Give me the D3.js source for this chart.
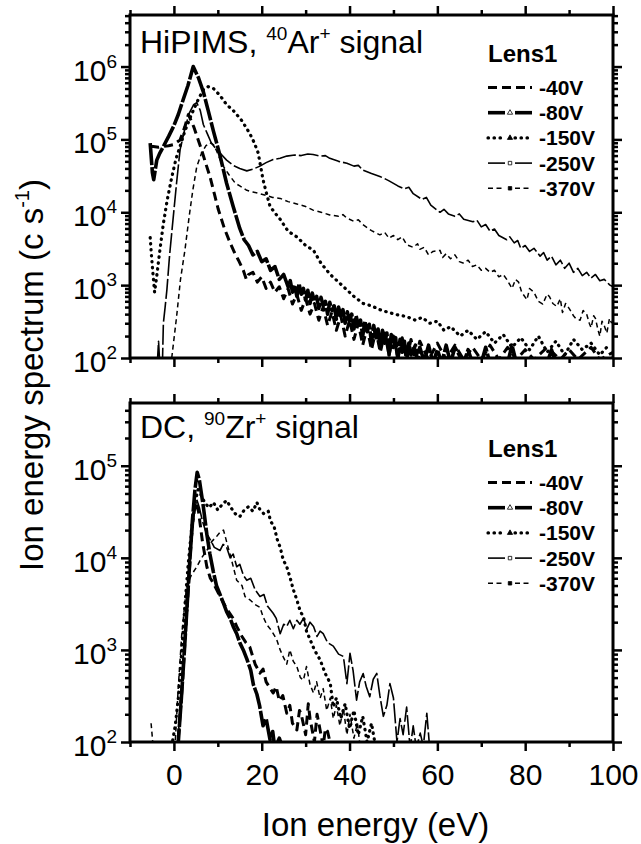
<!DOCTYPE html>
<html>
<head>
<meta charset="utf-8">
<script src="https://cdn.jsdelivr.net/npm/d3@7"></script>
<style>
body { margin: 0; background: #fff; }
text { font-family: "Liberation Sans", Arial, Helvetica, sans-serif; fill: #000; }
</style>
</head>
<body>
<script>
// legend labels (Lens1 voltage)
var labels = ["-40V", "-80V", "-150V", "-250V", "-370V"];

// x axis ticks
var xMajor = [0, 20, 40, 60, 80, 100];
var xMinor = [-10, 10, 30, 50, 70, 90];

// ---- HiPIMS, 40Ar+ signal (top) ----
var ar40 = [[-5.4,8e4],[-4.7,8e4],[-3.5,7.8e4],[-2.4,8e4],[-1.2,8.2e4],[-0.1,8.5e4],[1.4,9.8e4],[2.5,1.5e5],[3.3,2.2e5],[4.5,1.5e5],[5.5,1e5],[6.3,7.2e4],[7.2,4.8e4],[8.2,3.1e4],[9.2,1.8e4],[10.1,1.1e4],[11.5,6e3],[12.8,3.8e3],[13.8,2.8e3],[14.7,2.2e3],[15.8,1.6e3],
  [16.5,1200],[17,1400],[18,1500],[19,1100],[20,1300],[21,900],[22,1100],[23,800],[24,950],[25,650],[26,900],[27,550],[28,750],[29,450],[30,650],[31,400],[32,560],[33,330],[34,500],[35,280],[36,430],[37,240],[38,380],[39,200],[40,330],[41,180],[42,300],[43,150],[44,260],[45,130],[46,240],[47,120],[48,220],[49,110],[50,200],[51,100],[52,190],[53,95],[54,180],[55,95],[56,170],[58,95],[60,160],[62,95],[64,150],[66,95],[68,140],[70,95],[72,150],[74,95],[76,140],[78,95],[80,130],[82,95],[85,140],[88,95],[90,130],[92,95],[95,140],[97,95],[100,120]];
var ar80 = [[-5.4,8.9e4],[-4.9,3.5e4],[-4.6,2.8e4],[-4.2,4e4],[-3.9,5.2e4],[-3.2,6.5e4],[-2.4,8e4],[-1.2,1.1e5],[-0.1,1.5e5],[1,2.2e5],[2.1,3.5e5],[3.2,5.5e5],[4.4,1e6],[5.6,7e5],[6.7,4.5e5],[7.8,2.5e5],[9,1.3e5],[10.5,6e4],[12,2.5e4],[13.5,1.2e4],[15,6e3],[16,4.2e3],[17,3.5e3],[18,2.6e3],[19,2.9e3],[20,2.1e3],[21,2.3e3],[22,1.6e3],[23,1.8e3],[24,1.2e3],[25,1.4e3],
  [26,950],[26.5,1150],[27,800],[27.5,1000],[28,700],[28.5,1050],[29,750],[29.5,900],[30,620],[30.5,850],[31,560],[31.5,780],[32,600],[32.5,700],[33,480],[33.5,680],[34,520],[34.5,600],[35,400],[35.5,580],[36,450],[36.5,520],[37,340],[37.5,500],[38,380],[38.5,460],[39,300],[39.5,430],[40,320],[40.5,400],[41,250],[41.5,380],[42,280],[42.5,330],[43,200],[43.5,320],[44,230],[44.5,290],[45,160],[45.5,280],[46,190],[46.5,250],[47,130],[47.5,240],[48,160],[48.5,220],[49,110],[49.5,210],[50,140],[50.5,190],[51,95],[51.5,180],[52,120],[52.5,170],[53,90],[53.5,160],[54,110],[55,150],[55.5,85],[56,140],[57,90],[58,150],[59,85],[60,130],
  [61,85],[62,150],[63,85],[64,140],[66,85],[67,130],[68,85],[70,85],[71,140],[72,85],[76,85],[77,150],[78,85],[85,85],[86,130],[87,85],[100,85]];
var ar150 = [[-5.4,4.5e3],[-5.1,2.5e3],[-4.8,1.5e3],[-4.4,800],[-4,1.2e3],[-3.2,3e3],[-2.4,7e3],[-1.5,1.5e4],[-0.5,3e4],[0.5,5.5e4],[1.4,8e4],[2.5,1.3e5],[4,2.2e5],[5.5,3.5e5],[6.7,4.8e5],[7.8,5.3e5],[9,5e5],[10.5,4e5],[12,3e5],[13.5,2.5e5],[15.5,1.8e5],[17.3,1.2e5],[18.3,9e4],[19.2,6.5e4],[20.3,2.8e4],[21.1,1.8e4],[21.9,1.2e4],[23,9.8e3],[24.2,8e3],[26,5.5e3],[28,4.6e3],[30,3.5e3],[31.8,3e3],[33.5,2e3],[35.6,1.4e3],[37.5,1.1e3],[39.4,860],[41,700],[43.1,560],[45,520],[46.9,460],[49,420],[51,390],[53,370],[55,330],[56.5,360],[58.3,300],[60,320],[61.5,240],[63,270],[65.2,200],[67,240],[69,180],[71,230],[73,160],[75,210],[77,140],[79,190],[81,130],[83,200],[85,120],[87,170],[89,110],[91,180],[93,130],[95,160],[97,110],[99,150]];
var ar250 = [[-3.8,80],[-3.5,170],[-3.2,80],[-2.6,90],[-2.4,300],[-2,500],[-1.6,860],[-1,2.5e3],[-0.5,5.2e3],[0.6,2.5e4],[1.4,7.2e4],[2.5,1.4e5],[3.5,2.3e5],[4.5,3e5],[5.2,3.2e5],[6,2.5e5],[6.7,1.6e5],[7.6,1.2e5],[8.5,9e4],[9.5,7.5e4],[10.5,6.5e4],[12,5.2e4],[13.5,4.4e4],[15,4e4],[16.6,3.7e4],[18,3.9e4],[19.6,4.3e4],[21,4.8e4],[22.6,5.3e4],[24.2,5.5e4],[25.7,5.9e4],[27.5,6.1e4],[29,6e4],[30.5,6.3e4],[31.7,6.2e4],[33.3,5.9e4],[34.5,6e4],[35.5,5.5e4],[37.5,5e4],[39.4,4.7e4],[41,4.3e4],[42,4.4e4],[43,3.8e4],[45,3.4e4],[46.9,3.1e4],[48,2.9e4],[49,2.7e4],[51,2.3e4],[52.5,2.1e4],[53.5,2.2e4],[54.5,1.8e4],[56.5,1.5e4],[57.5,1.6e4],[58.5,1.25e4],[60.6,1e4],[61.5,1.1e4],[62.5,9.5e3],[64,8.8e3],[65,9.5e3],[66,8e3],[68.1,7.4e3],[69,7.8e3],[70,6.3e3],[71,6.8e3],[72,5.5e3],[73,5.9e3],[74,4.8e3],[75.8,4.2e3],[76.5,4.6e3],[77.5,3.8e3],[78.3,4.1e3],[79,3.2e3],[80,3.5e3],[81,2.9e3],[82,3.2e3],[83.4,2.5e3],[84.2,2.8e3],[85,2.2e3],[86,2.5e3],[87,1.9e3],[88,2.2e3],[89,1.7e3],[90,2e3],[91,1.5e3],[92,1.7e3],[93,1.35e3],[94,1.5e3],[95,1.25e3],[96,1.4e3],[97,1.15e3],[98,1.2e3],[99.3,1e3],[100,950]];
var ar370 = [[-0.5,100],[0.6,363],[1.5,1.2e3],[2.5,3e3],[3.5,9e3],[4.3,2e4],[5.2,4.2e4],[6.3,6.5e4],[7.3,8.2e4],[8.2,9e4],[9,8.5e4],[9.7,7e4],[11,4.5e4],[12.5,3.3e4],[14,2.5e4],[15,2.3e4],[16.6,2e4],[18,1.9e4],[19.6,1.8e4],[21,1.7e4],[22.5,1.6e4],[24.2,1.55e4],[26,1.4e4],[28,1.3e4],[30,1.2e4],[31.7,1.07e4],[33.5,1e4],[35.5,9.2e3],[37.5,8.8e3],[38.5,9.3e3],[39.3,8.4e3],[41,7.5e3],[42,7.9e3],[43,6.8e3],[45,5.6e3],[46.9,4.9e3],[48,5.3e3],[49,4.4e3],[50,4.8e3],[51,4.2e3],[52,4.6e3],[53,3.6e3],[54.5,3.3e3],[55.5,3.7e3],[56,3.1e3],[57,3.3e3],[58,2.6e3],[59,2.9e3],[60.6,3e3],[61.2,2.4e3],[62,2.7e3],[63,2.3e3],[64,2.6e3],[65,2.1e3],[66,2e3],[67,2.2e3],[68,1.8e3],[69,1.9e3],[70,1.6e3],[71,1.7e3],[72,1.5e3],[73,1.6e3],[74,1.3e3],[75,1.4e3],[75.8,1.2e3],[77,900],[77.8,1.2e3],[78.5,1.1e3],[79.2,800],[80.4,630],[81,900],[82,800],[83,600],[84,550],[85,750],[85.5,700],[86.3,560],[87.2,510],[88,650],[88.5,420],[89.2,560],[90,480],[91,380],[91.5,350],[92.5,330],[93.2,450],[94,400],[94.6,300],[95,260],[95.6,380],[96,350],[96.6,240],[97,200],[97.5,320],[98,280],[98.6,220],[99.2,350],[99.7,300]];

// ---- DC, 90Zr+ signal (bottom) ----
var zr40 = [[0.5,80],[1,110],[1.8,350],[2.5,1.2e3],[3.2,4e3],[3.8,1.2e4],[4.4,2.8e4],[5,4e4],[5.6,3.2e4],[6.5,1.5e4],[7.5,8e3],[8.3,6e3],[9,5.3e3],[10.5,3.8e3],[12,2.8e3],[13.5,2.2e3],[14.3,1.8e3],[15.5,1.4e3],[16.4,1.2e3],[17.3,1.07e3],[18.5,700],[19.6,560],[20.3,620],[21,450],[22.6,340],[23.3,400],[24,280],[24.8,320],[25.7,205],[26.4,250],[27,160],[28,135],[28.6,220],[29,200],[30,120],[30.6,260],[31,180],[32,100],[32.6,200],[33,160],[34,90],[34.5,140],[35,130],[36,80]];
var zr80 = [[0.5,80],[1,100],[1.7,300],[2.4,1e3],[3,3e3],[3.6,9e3],[4.2,2.5e4],[4.8,5.5e4],[5.3,8.5e4],[5.8,7e4],[6.7,3.6e4],[7.5,1.8e4],[8.2,1.1e4],[9,7e3],[9.7,5e3],[10.5,4e3],[11.3,3.2e3],[12,2.6e3],[12.8,2.2e3],[13.5,1.8e3],[14.3,1.5e3],[15,1.2e3],[15.8,1e3],[16.6,800],[17.5,600],[18.1,420],[18.9,330],[19.5,250],[20.3,150],[21,180],[21.9,105],[22.5,130],[23,85],[24,110],[25,80]];
var zr150 = [[-0.5,90],[0.3,150],[1,300],[1.8,1e3],[2.5,3e3],[3.2,8e3],[4,2e4],[4.8,4e4],[5.5,5.5e4],[6.2,4.8e4],[7,4e4],[8,3.5e4],[9,4e4],[10,3.3e4],[11,3.8e4],[12,4.2e4],[13,3.5e4],[14,3e4],[15,2.8e4],[16,3.3e4],[17,3.6e4],[18,3.2e4],[18.9,4e4],[19.5,3.4e4],[20.5,3e4],[21.5,3.2e4],[22,2.5e4],[22.8,2.2e4],[23.5,1.6e4],[24.2,1.3e4],[24.9,9.5e3],[25.7,8e3],[26.5,6e3],[27.2,4.5e3],[28,3.5e3],[28.8,2.6e3],[29.5,2.3e3],[30.2,1.6e3],[31,1.3e3],[32,1e3],[33.3,780],[34.5,550],[35.6,435],[36.3,240],[37,300],[38,180],[39,260],[40,140],[41,220],[42,120],[43,190],[44,100],[45,160],[46,85]];
var zr250 = [[0.3,80],[0.9,100],[1.7,400],[2.5,1.5e3],[3.3,5e3],[4,1.5e4],[4.7,3.2e4],[5.2,4.3e4],[5.8,3.5e4],[6.5,2.5e4],[7.3,1.9e4],[8.2,1.6e4],[9.2,1.3e4],[10.5,1.2e4],[11.2,1.4e4],[12,1.3e4],[12.8,1e4],[13.5,1.1e4],[14.3,8e3],[15,8.5e3],[15.8,6.5e3],[16.6,5.7e3],[17.5,6e3],[18.5,4.5e3],[19.6,3.8e3],[20.5,4e3],[21.3,3e3],[22.6,2.5e3],[23.3,2.2e3],[24.2,1.5e3],[25,1.9e3],[25.7,1.8e3],[26.4,2.1e3],[27.2,1.7e3],[28,2.1e3],[28.7,1.9e3],[29.5,2.2e3],[30.3,1.7e3],[31,2e3],[31.8,1.8e3],[32.6,1.4e3],[33.3,1.6e3],[34,1.5e3],[35,1.2e3],[36.3,1.1e3],[37.5,900],[38.6,850],[39.4,430],[40.1,920],[40.8,600],[41.6,285],[42.3,450],[43.1,555],[43.8,400],[44.6,310],[45.4,480],[46.2,555],[46.9,320],[47.7,190],[48.5,250],[49.2,430],[50,300],[50.8,100],[51.5,180],[52.2,120],[53,240],[53.8,85],[54.5,150],[55.2,85],[56.1,125],[56.8,90],[57.6,205],[58.3,80]];
var zr370 = [[-5.2,160],[-4.9,110],[-4.7,80],[0,80],[0.3,100],[1,400],[1.8,1.5e3],[2.9,5e3],[4,6.5e3],[5.2,8e3],[6.3,1e4],[7.5,1.2e4],[8.6,1.5e4],[9.7,1.7e4],[10.5,1.9e4],[11.3,2e4],[12,1.5e4],[13,1e4],[14.3,5.7e3],[15.5,5e3],[16.2,3.8e3],[17.3,3.5e3],[18.5,3.1e3],[19.6,2.9e3],[20.3,2.3e3],[21.1,1.9e3],[22.3,1.6e3],[23.4,1.3e3],[24.2,1e3],[24.9,840],[25.7,700],[26.4,1e3],[27.2,750],[28,660],[28.8,500],[29.5,470],[30.2,660],[31,420],[31.8,340],[32.5,450],[33.3,300],[34,380],[34.8,220],[35.6,300],[36.3,180],[37,250],[37.8,150],[38.6,230],[39.4,120],[40.1,200],[41,110],[41.8,160],[42.5,80]];

// line styles per legend entry
var lineStyle = {
  "-40V":  { w: 3,   dash: "9,5",     cap: "butt",  sym: null },
  "-80V":  { w: 3.6, dash: "22,2",    cap: "butt",  sym: "openTri" },
  "-150V": { w: 3.2, dash: "0.5,5.5", cap: "round", sym: "tri" },
  "-250V": { w: 1.6, dash: "20,3",    cap: "butt",  sym: "openSq" },
  "-370V": { w: 1.5, dash: "5,3.5",   cap: "butt",  sym: "sq" }
};

var W = 641, H = 844;
var xLeft = 130, xRight = 613;

var svg = d3.select("body").append("svg")
    .attr("width", W)
    .attr("height", H);

var xScale = d3.scaleLinear().domain([-10, 100]).range([xLeft, xRight]);

var panels = [
  { id: "ar", top: 15, bottom: 358, yDomain: [100, 5.1e6], showX: false, legendY: 62,
    title: [["HiPIMS, ", 0], ["40", 1], ["Ar", 0], ["+", 1], [" signal", 0]], titleY: 53,
    series: [ar40, ar80, ar150, ar250, ar370] },
  { id: "zr", top: 403, bottom: 742, yDomain: [100, 4.8e5], showX: true, legendY: 457,
    title: [["DC, ", 0], ["90", 1], ["Zr", 0], ["+", 1], [" signal", 0]], titleY: 438,
    series: [zr40, zr80, zr150, zr250, zr370] }
];

function styleTicks(g) {
  g.select(".domain").remove();
  g.selectAll(".tick line").attr("stroke", "#000").attr("stroke-width", 2.5);
}

function richText(sel, parts, supSize, supShift) {
  parts.forEach(function(p, i) {
    var t = sel.append("tspan").text(p[0]);
    if (p[1]) t.attr("font-size", supSize).attr("dy", -supShift);
    else if (i > 0 && parts[i - 1][1]) t.attr("dy", supShift);
  });
}

panels.forEach(function(p) {
  var y = d3.scaleLog().domain(p.yDomain).range([p.bottom, p.top]);
  var g = svg.append("g");

  g.append("clipPath").attr("id", "clip-" + p.id)
    .append("rect")
    .attr("x", xLeft).attr("y", p.top)
    .attr("width", xRight - xLeft).attr("height", p.bottom - p.top);

  var line = d3.line()
      .x(function(d) { return xScale(d[0]); })
      .y(function(d) { return y(d[1]); });

  var curves = g.append("g").attr("clip-path", "url(#clip-" + p.id + ")");
  p.series.forEach(function(s, i) {
    var st = lineStyle[labels[i]];
    curves.append("path")
      .attr("d", line(s))
      .attr("fill", "none")
      .attr("stroke", "#000")
      .attr("stroke-width", st.w)
      .attr("stroke-dasharray", st.dash)
      .attr("stroke-linecap", st.cap)
      .attr("stroke-linejoin", "round");
  });

  // y ticks
  var lo = Math.round(Math.log10(p.yDomain[0]));
  var hi = Math.floor(Math.log10(p.yDomain[1]));
  var yMajor = d3.range(lo, hi + 1).map(function(e) { return Math.pow(10, e); });
  var yMinor = [];
  yMajor.forEach(function(m) {
    for (var k = 2; k <= 9; k++) if (m * k <= p.yDomain[1]) yMinor.push(m * k);
  });

  g.append("g").attr("transform", "translate(" + xLeft + ",0)")
    .call(d3.axisLeft(y).tickValues(yMajor).tickSize(9).tickFormat("")).call(styleTicks);
  g.append("g").attr("transform", "translate(" + xLeft + ",0)")
    .call(d3.axisLeft(y).tickValues(yMinor).tickSize(5).tickFormat("")).call(styleTicks);
  g.append("g").attr("transform", "translate(" + xRight + ",0)")
    .call(d3.axisRight(y).tickValues(yMajor).tickSize(9).tickFormat("")).call(styleTicks);
  g.append("g").attr("transform", "translate(" + xRight + ",0)")
    .call(d3.axisRight(y).tickValues(yMinor).tickSize(5).tickFormat("")).call(styleTicks);

  // y tick labels 10^n
  yMajor.forEach(function(m) {
    var t = g.append("text")
      .attr("x", xLeft - 13)
      .attr("y", y(m) + 14)
      .attr("text-anchor", "end")
      .attr("font-size", 30);
    richText(t, [["10", 0], [String(Math.round(Math.log10(m))), 1]], 19, 13);
  });

  // x ticks
  var bx = g.append("g").attr("transform", "translate(0," + p.bottom + ")")
    .call(d3.axisBottom(xScale).tickValues(xMajor).tickSize(9).tickPadding(13)
      .tickFormat(p.showX ? d3.format("d") : ""));
  bx.call(styleTicks);
  bx.selectAll("text").attr("font-size", 30).attr("font-family", null).attr("fill", "#000");
  g.append("g").attr("transform", "translate(0," + p.bottom + ")")
    .call(d3.axisBottom(xScale).tickValues(xMinor).tickSize(5).tickFormat("")).call(styleTicks);
  g.append("g").attr("transform", "translate(0," + p.top + ")")
    .call(d3.axisTop(xScale).tickValues(xMajor).tickSize(9).tickFormat("")).call(styleTicks);
  g.append("g").attr("transform", "translate(0," + p.top + ")")
    .call(d3.axisTop(xScale).tickValues(xMinor).tickSize(5).tickFormat("")).call(styleTicks);

  // frame
  g.append("rect")
    .attr("x", xLeft).attr("y", p.top)
    .attr("width", xRight - xLeft).attr("height", p.bottom - p.top)
    .attr("fill", "none").attr("stroke", "#000").attr("stroke-width", 3);

  // panel title
  var tt = g.append("text").attr("x", xLeft + 10).attr("y", p.titleY).attr("font-size", 32);
  richText(tt, p.title, 19, 13);

  // legend
  var lg = g.append("g");
  lg.append("text").attr("x", 488).attr("y", p.legendY)
    .attr("font-size", 24).attr("font-weight", "bold").text("Lens1");
  labels.forEach(function(lab, i) {
    var st = lineStyle[lab];
    var cy = p.legendY + 25.5 + i * 25.2;
    if (st.sym) {
      [[488, 505], [515, 532]].forEach(function(seg) {
        lg.append("line")
          .attr("x1", seg[0]).attr("x2", seg[1]).attr("y1", cy).attr("y2", cy)
          .attr("stroke", "#000").attr("stroke-width", st.w)
          .attr("stroke-dasharray", lab === "-80V" || lab === "-250V" ? null : st.dash)
          .attr("stroke-linecap", st.cap);
      });
      var open = st.sym.indexOf("open") === 0;
      var type = st.sym.toLowerCase().indexOf("tri") >= 0 ? d3.symbolTriangle : d3.symbolSquare;
      lg.append("path")
        .attr("d", d3.symbol().type(type).size(12)())
        .attr("transform", "translate(510," + cy + ")")
        .attr("fill", open ? "#fff" : "#000")
        .attr("stroke", "#000").attr("stroke-width", 0.8);
    } else {
      lg.append("line")
        .attr("x1", 488).attr("x2", 532).attr("y1", cy).attr("y2", cy)
        .attr("stroke", "#000").attr("stroke-width", st.w)
        .attr("stroke-dasharray", st.dash);
    }
    lg.append("text").attr("x", 539).attr("y", cy + 7.5)
      .attr("font-size", 21).attr("font-weight", "bold").text(lab);
  });
});

// axis titles
svg.append("text")
  .attr("x", (xLeft + xRight) / 2 + 4)
  .attr("y", 836)
  .attr("text-anchor", "middle")
  .attr("font-size", 33)
  .text("Ion energy (eV)");

var yt = svg.append("text")
  .attr("transform", "translate(43,375) rotate(-90)")
  .attr("text-anchor", "middle")
  .attr("font-size", 33);
richText(yt, [["Ion energy spectrum (c s", 0], ["-1", 1], [")", 0]], 20, 14);
</script>
</body>
</html>
